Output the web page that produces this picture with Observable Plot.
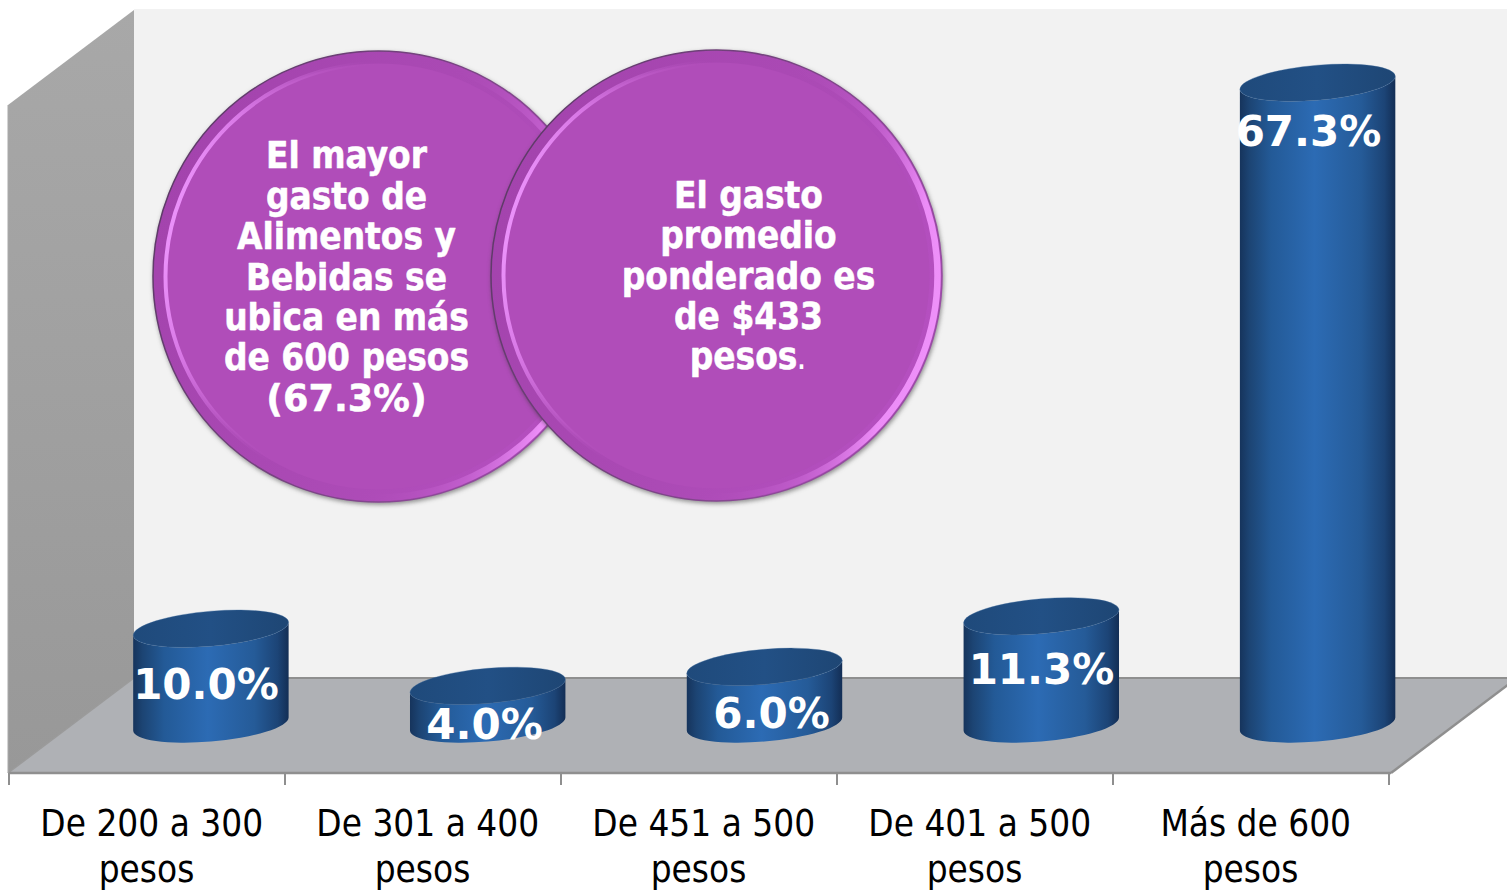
<!DOCTYPE html>
<html lang="es">
<head>
<meta charset="utf-8">
<title>Gasto en alimentos y bebidas</title>
<style>
  html, body { margin: 0; padding: 0; background: #fff; }
  svg { display: block; }
  .bubble { filter: drop-shadow(1px 2px 2px rgba(50,50,50,.5)); }
</style>
<script src="https://cdn.jsdelivr.net/npm/d3@7"></script>
<script src="https://cdn.jsdelivr.net/npm/@observablehq/plot@0.6"></script>
</head>
<body>
<div id="chart"></div>
<script>
// ---- data ----
const categories = [
  "\u00a0De 200 a 300\npesos",
  "\u00a0De 301 a 400\npesos",
  "\u00a0De 451 a 500\npesos",
  "\u00a0De 401 a 500\npesos",
  "\u00a0Más de 600\npesos"
];
const values = [10.0, 4.0, 6.0, 11.3, 67.3];
const valueLabels = ["10.0%", "4.0%", "6.0%", "11.3%", "67.3%"];
const noteLeft = "El mayor\ngasto de\nAlimentos y\nBebidas se\nubica en más\nde 600 pesos";
const noteLeftEnd = "(67.3%)";
const noteRight = "El gasto\npromedio\nponderado es\nde $433";
const noteRightEnd = "pesos";

const rows = categories.map((category, i) => ({category, value: values[i], label: valueLabels[i]}));

// ---- layout ----
const W = 1507, H = 890;
const mL = 8, mT = 10;
const depthX = 65;                          // cylinders stand inside the 3-D floor
const barNudge = [-1.1, -0.3, 0.5, 1.3, 1.6];
const labelNudge = [[-6.5, 56], [-4, 39.5], [7, 47], [1, 54], [-8, 49]];
const tilt = 5, rx = 78, ry = 17.5;
const sans = "'DejaVu Sans Condensed', 'DejaVu Sans', sans-serif";

const ns = "http://www.w3.org/2000/svg";
const el = (name, attrs = {}) => {
  const n = document.createElementNS(ns, name);
  for (const k in attrs) n.setAttribute(k, attrs[k]);
  return n;
};

function defs() {
  const d = el("defs");
  const grad = (id, stops, a = {x1: 0, y1: 0, x2: 1, y2: 0}) => {
    const g = el("linearGradient", {id, ...a});
    for (const [o, c, so] of stops) g.appendChild(el("stop", {offset: o, "stop-color": c, "stop-opacity": so ?? 1}));
    d.appendChild(g);
  };
  grad("cyl", [[0, "#16345c"], [.06, "#1c4473"], [.2, "#235a97"], [.48, "#2c6bb4"], [.78, "#255b98"], [.93, "#1c4476"], [1, "#132e55"]]);
  grad("cap", [[0, "#1f4a7b"], [.5, "#225085"], [1, "#1e4674"]]);
  grad("wallL", [[0, "#a8a8a8"], [1, "#989898"]], {x1: 0, y1: 0, x2: 0, y2: 1});
  grad("rim", [[0, "#a343ad"], [.55, "#ab4ab5"], [1, "#b650c1"]], {x1: 0, y1: .3, x2: 1, y2: .7});
  grad("edge", [[0, "#5c3a66"], [.5, "#7a4484"], [1, "#9c4da8"]], {x1: 0, y1: .3, x2: 1, y2: .7});
  grad("glowL", [[0, "#ea90f9"], [.15, "#e080ee", .85], [.4, "#c866d4", .3], [.6, "#b04db9", 0], [1, "#b04db9", 0]], {x1: 0, y1: .45, x2: .6, y2: .6});
  grad("glowR", [[0, "#b04db9", 0], [.4, "#b04db9", 0], [.7, "#d06ddc", .5], [.9, "#ec8cf7"], [1, "#ee90f9"]], {x1: .3, y1: .4, x2: 1, y2: .55});
  return d;
}

function scene(index, {x}, values, {width, height, marginLeft, marginRight, marginBottom}) {
  const g = el("g");
  const x0 = marginLeft, x1 = width - marginRight, yf = height - marginBottom;
  const backX = x0 + 126, backY = yf - 95, topY = mT;
  const poly = (pts, attrs) => g.appendChild(el("polygon", {points: pts.map(p => p.join(",")).join(" "), ...attrs}));
  const line = (a, b, stroke = "#8f8f8f", sw = 2) => g.appendChild(el("line", {x1: a[0], y1: a[1], x2: b[0], y2: b[1], stroke, "stroke-width": sw}));
  // back wall
  poly([[backX, topY - 1], [width, topY - 1], [width, backY], [backX, backY]], {fill: "#f2f2f2"});
  // left wall
  poly([[x0, 105], [backX, topY], [backX, backY], [x0, yf]], {fill: "url(#wallL)"});
  // floor
  const front = x1 + 2;
  poly([[x0, yf], [backX, backY], [width, backY], [front + 126, backY], [front, yf]], {fill: "#afb1b5"});
  line([backX, backY], [width, backY]);
  line([x0, yf], [backX, backY], "#9a9a9a", 1.5);
  line([front, yf], [front + 126, backY], "#8f8f8f", 2.5);
  line([x0, yf], [front, yf], "#8f8f8f", 2.5);
  line([x0, 105], [x0, yf], "#a9a9a9", 1);
  // band-edge ticks
  const bw = x.bandwidth();
  const edges = [...x.domain().map(d => x(d)), x(x.domain().at(-1)) + bw];
  for (const e of edges) line([e, yf], [e, yf + 12], "#8f8f8f", 2);
  return g;
}

// each rect of the bar mark becomes a tilted cylinder of the same box
function cylinder(index, scales, vals, dims, ctx, next) {
  const g = next(index, scales, vals, dims, ctx);
  const th = tilt * Math.PI / 180;
  const hw = Math.sqrt(rx * rx * Math.cos(th) ** 2 + ry * ry * Math.sin(th) ** 2);
  const k = (rx * rx - ry * ry) * Math.sin(th) * Math.cos(th) / hw;
  for (const r of [...g.querySelectorAll("rect")]) {
    const X = +r.getAttribute("x"), Y = +r.getAttribute("y"), w = +r.getAttribute("width"), h = +r.getAttribute("height");
    const cx = X + w / 2, L = cx - hw, R = cx + hw, base = Y + h;
    const arc = (sweep, px, py) => `A${rx} ${ry} ${-tilt} 0 ${sweep} ${px} ${py}`;
    const body = `M${L} ${Y + k}L${L} ${base + k}${arc(0, R, base - k)}L${R} ${Y - k}${arc(1, L, Y + k)}Z`;
    const cap = `M${L} ${Y + k}${arc(1, R, Y - k)}${arc(1, L, Y + k)}Z`;
    g.appendChild(el("path", {d: body, fill: "url(#cyl)"}));
    g.appendChild(el("path", {d: cap, fill: "url(#cap)", stroke: "#3d6a9c", "stroke-width": .6, "stroke-opacity": .6}));
    r.remove();
  }
  return g;
}

function bubble(cx, cy) {
  const o = {frameAnchor: "top-left", dx: cx - mL, dy: cy - mT};
  return [
    Plot.dot([0], {...o, r: 225.5, fill: "url(#rim)", stroke: "url(#edge)", strokeWidth: 1.5, className: "bubble"}),
    Plot.dot([0], {...o, r: 221, fill: "none", stroke: "url(#glowR)", strokeWidth: 6.5}),
    Plot.dot([0], {...o, r: 213, fill: "#b04db9", stroke: "url(#glowL)", strokeWidth: 4})
  ];
}

const noteText = (text, cx, cy, extra = {}) => Plot.text([text], {
  text: d => d, frameAnchor: "top-left", dx: cx - mL, dy: cy - mT, fill: "#fff",
  fontSize: 36.6, fontWeight: "bold", lineHeight: 40.4 / 36.6, textAnchor: "middle", lineAnchor: "middle",
  stroke: "#fff", strokeWidth: .5, ...extra
});

const chart = Plot.plot({
  width: W, height: H,
  marginTop: mT, marginLeft: mL, marginRight: 118, marginBottom: 117,
  style: {fontFamily: sans, background: "#fff"},
  x: {type: "band", domain: categories, range: [8, 1389], padding: 0, label: null},
  y: {domain: [0, 70], range: [724, 57], label: null},
  marks: [
    defs,
    scene,
    Plot.axisX({
      tickSize: 0, tickPadding: 30, fontSize: 36.6, lineHeight: 46 / 36.6, fill: "#000", dx: -1,
      label: null, tickFormat: d => d, textOverflow: null
    }),
    Plot.axisY({ticks: [], label: null, tickSize: 0}),
    ...rows.map((row, i) => Plot.barY([row], {
      x: "category", y: "value", dx: depthX + barNudge[i], insetLeft: 60, insetRight: 60, fill: "#2c6bb4", render: cylinder
    })),
    ...bubble(378, 276),
    ...bubble(716, 275),
    noteText(noteLeft, 346, 256),
    noteText(noteLeftEnd, 346, 398, {fontFamily: "'DejaVu Sans', sans-serif"}),
    noteText(noteRight, 748, 255),
    noteText(noteRightEnd, 743, 356),
    noteText(".", 801, 356, {fontWeight: "normal", stroke: "none"}),
    ...rows.map((row, i) => Plot.text([row], {
      x: "category", y: "value", text: "label", fill: "#fff",
      fontSize: 42, fontWeight: "bold", fontFamily: "'DejaVu Sans', sans-serif",
      dx: depthX + labelNudge[i][0], dy: labelNudge[i][1]
    }))
  ]
});
document.getElementById("chart").appendChild(chart);
</script>
</body>
</html>
